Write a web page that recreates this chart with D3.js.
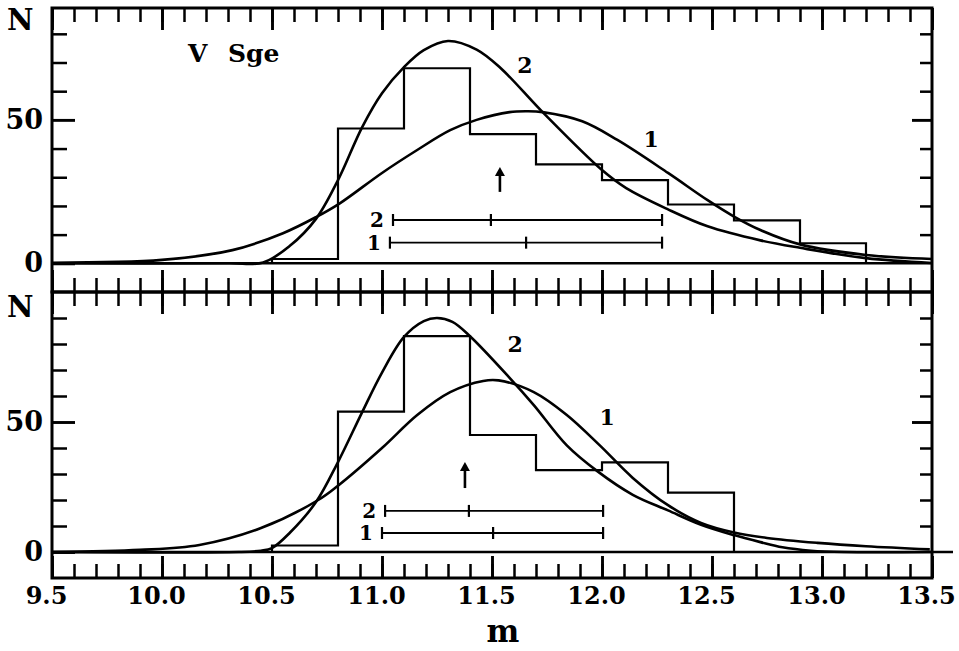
<!DOCTYPE html>
<html><head><meta charset="utf-8">
<script src="https://cdn.jsdelivr.net/npm/d3@7"></script>
<style>
body{margin:0;background:#fff}
svg{display:block;background:#fff}
text{font-family:"DejaVu Serif",serif;font-weight:bold;fill:#000}
</style>
</head><body>
<svg id="c" width="959" height="651"></svg>
<script>
// ---------- data ----------
const binEdges = [10.5,10.8,11.1,11.4,11.7,12.0,12.3,12.6,12.9,13.2];
const topCounts = [1.5,47,68,45,34.5,29,20.5,15,7];
const botCounts = [2.5,54,83,45,31.5,34.5,22.8];

const topCurve1X = [9.5,10.0,10.32,10.55,10.70,10.81,11.0,11.16,11.31,11.43,11.58,11.66,11.73,11.91,12.07,12.30,12.48,12.60,12.72,12.90,13.20,13.5];
const topCurve1Y = [0.2,1.2,4.6,10.5,16.1,21,31.5,39.5,46.4,50,52.7,53,52.7,49.5,43,31.5,22,16.3,11.6,6.6,2.9,1.5];
const topCurve2X = [9.5,10.3,10.46,10.58,10.70,10.80,10.91,11.0,11.10,11.19,11.30,11.43,11.54,11.73,12.0,12.11,12.30,12.48,12.72,12.90,13.20,13.5];
const topCurve2Y = [0,0,0.3,6,15.5,29,47.5,59.3,68.4,74.3,77.5,74.5,68,52.7,32.5,26.2,18.8,12.9,8.0,5.4,1.8,0.1];

const botCurve1X = [9.5,9.9,10.17,10.45,10.71,10.80,11.0,11.16,11.31,11.46,11.53,11.69,11.84,11.99,12.14,12.30,12.45,12.60,12.75,12.98,13.2,13.49];
const botCurve1Y = [0,0.8,2.7,9.2,20,25.5,40,52.7,61.5,65.8,66,61.5,52.7,41,28.5,18,11.2,7.5,5.4,3.5,2.2,1.0];
const botCurve2X = [9.5,10.35,10.45,10.50,10.58,10.70,10.80,10.91,11.0,11.10,11.19,11.25,11.32,11.40,11.58,11.69,11.84,11.98,12.14,12.30,12.45,12.60,12.72,12.82,12.95,13.1,13.5];
const botCurve2Y = [0,0,0.5,1.5,7.3,19.2,34.6,53.8,69,82.7,88.8,90,88.5,83,67,56.5,41,31,22,16,10.5,6.5,3.8,1.8,0.5,0,0];

// error bars
const topBarLabels = ["2","1"];
const topBarLevel = [15.1,7.2];
const topBarLow = [11.05,11.036];
const topBarMid = [11.495,11.655];
const topBarHigh = [12.273,12.273];
const botBarLabels = ["2","1"];
const botBarLevel = [15.8,7.3];
const botBarLow = [11.014,11.0];
const botBarMid = [11.395,11.505];
const botBarHigh = [12.005,12.005];

// arrows: x, tail, tip
const topArrow = [11.536,24.9,33.6];
const botArrow = [11.377,24.6,34.6];

const xMajorTicks = [9.5,10.0,10.5,11.0,11.5,12.0,12.5,13.0,13.5];
const xMinorTicks = d3.range(95,136).map(v=>v/10);
const yLabelTicks = [0,50];
const topMinorY = [10,20,30,40,60,70,80];
const botMinorY = [10,20,30,40,60,70,80,90];

// ---------- layout ----------
const svg = d3.select("#c");
const x = d3.scaleLinear([9.5,13.5],[52,932]);
const yTop = d3.scaleLinear([-10,89],[292,8]);
const yBot = d3.scaleLinear([-10,100],[578,292]);

function styleAxis(g, w){
  g.select(".domain").remove();
  g.selectAll(".tick line").attr("stroke","#000").attr("stroke-width",w||2.5);
}

function panel(y, counts, c1x, c1y, c2x, c2y, minorY, bars, arrow, zeroExt){
  const [y0,y1] = y.range();
  svg.append("g").attr("transform",`translate(0,${y1})`)
    .call(d3.axisTop(x).tickValues(xMinorTicks).tickSize(-14).tickFormat(""))
    .call(g=>styleAxis(g));
  svg.append("g").attr("transform",`translate(0,${y1})`)
    .call(d3.axisTop(x).tickValues(xMajorTicks).tickSize(-22).tickFormat(""))
    .call(g=>styleAxis(g,2.9));
  svg.append("g").attr("transform",`translate(0,${y0})`)
    .call(d3.axisBottom(x).tickValues(xMinorTicks).tickSize(-14).tickFormat(""))
    .call(g=>styleAxis(g));
  svg.append("g").attr("transform",`translate(0,${y0})`)
    .call(d3.axisBottom(x).tickValues(xMajorTicks).tickSize(-22).tickFormat(""))
    .call(g=>styleAxis(g,2.9));
  svg.append("g").attr("transform",`translate(${x.range()[0]},0)`)
    .call(d3.axisLeft(y).tickValues(minorY).tickSize(-15).tickFormat(""))
    .call(g=>styleAxis(g));
  svg.append("g").attr("transform",`translate(${x.range()[0]},0)`)
    .call(d3.axisLeft(y).tickValues(yLabelTicks).tickSize(-23).tickPadding(9).tickFormat(d3.format("d")))
    .call(g=>{styleAxis(g,2.9); g.selectAll("text").attr("font-size",27).attr("font-family","DejaVu Serif").attr("font-weight","bold").attr("fill","#000");});
  svg.append("g").attr("transform",`translate(${x.range()[1]},0)`)
    .call(d3.axisRight(y).tickValues(minorY).tickSize(-12).tickFormat(""))
    .call(g=>styleAxis(g));
  svg.append("g").attr("transform",`translate(${x.range()[1]},0)`)
    .call(d3.axisRight(y).tickValues([50]).tickSize(-20).tickFormat(""))
    .call(g=>styleAxis(g,2.9));
  svg.append("rect").attr("x",x.range()[0]).attr("y",y1)
    .attr("width",x.range()[1]-x.range()[0]).attr("height",y0-y1)
    .attr("fill","none").attr("stroke","#000").attr("stroke-width",3);
  svg.append("line").attr("x1",x.range()[0]).attr("x2",x.range()[1]+zeroExt)
    .attr("y1",y(0)).attr("y2",y(0)).attr("stroke","#000").attr("stroke-width",2.6);
  const pts = [[binEdges[0],0]];
  counts.forEach((c,i)=>{pts.push([binEdges[i],c]);pts.push([binEdges[i+1],c]);});
  pts.push([binEdges[counts.length],0]);
  svg.append("path").attr("d",d3.line().x(d=>x(d[0])).y(d=>y(d[1]))(pts))
    .attr("fill","none").attr("stroke","#000").attr("stroke-width",2.2).attr("stroke-linejoin","miter");
  const ln = d3.line().x(d=>x(d[0])).y(d=>y(Math.max(0,d[1]))).curve(d3.curveCatmullRom.alpha(0.5));
  [[c1x,c1y],[c2x,c2y]].forEach(([cx,cy])=>{
    svg.append("path").attr("d",ln(cx.map((v,i)=>[v,cy[i]])))
      .attr("fill","none").attr("stroke","#000").attr("stroke-width",2.6);
  });
  const [labs,lev,lo,mid,hi] = bars;
  labs.forEach((l,i)=>{
    const yy = y(lev[i]);
    const g = svg.append("g").attr("stroke","#000");
    g.append("line").attr("x1",x(lo[i])).attr("x2",x(hi[i])).attr("y1",yy).attr("y2",yy).attr("stroke-width",1.8);
    [lo[i],hi[i]].forEach(v=>g.append("line").attr("x1",x(v)).attr("x2",x(v)).attr("y1",yy-6).attr("y2",yy+6).attr("stroke-width",2.2));
    g.append("line").attr("x1",x(mid[i])).attr("x2",x(mid[i])).attr("y1",yy-6).attr("y2",yy+6).attr("stroke-width",2.2);
    svg.append("text").attr("x",x(lo[i])-9).attr("y",yy+7).attr("text-anchor","end")
      .attr("font-size",20).text(l);
  });
  const [ax,at,ah] = arrow;
  svg.append("line").attr("x1",x(ax)).attr("x2",x(ax)).attr("y1",y(at)).attr("y2",y(ah)+6)
    .attr("stroke","#000").attr("stroke-width",2.6);
  svg.append("path").attr("d",`M${x(ax)},${y(ah)} l-5,9 l10,0 z`).attr("fill","#000");
}

panel(yTop, topCounts, topCurve1X, topCurve1Y, topCurve2X, topCurve2Y, topMinorY,
  [topBarLabels,topBarLevel,topBarLow,topBarMid,topBarHigh], topArrow, 0);
panel(yBot, botCounts, botCurve1X, botCurve1Y, botCurve2X, botCurve2Y, botMinorY,
  [botBarLabels,botBarLevel,botBarLow,botBarMid,botBarHigh], botArrow, 21);

svg.append("g").attr("transform",`translate(0,${yBot.range()[0]})`)
  .call(d3.axisBottom(x).tickValues(xMajorTicks).tickSize(0).tickPadding(9).tickFormat(d3.format(".1f")))
  .call(g=>{g.select(".domain").remove(); g.selectAll("text").attr("font-size",24).attr("dx",-6)
    .attr("font-family","DejaVu Serif").attr("font-weight","bold").attr("fill","#000");});

svg.append("text").attr("x",7).attr("y",30).attr("font-size",29).text("N");
svg.append("text").attr("x",7).attr("y",317).attr("font-size",29).text("N");
svg.append("text").attr("x",x(11.55)).attr("y",642).attr("text-anchor","middle").attr("font-size",31).text("m");

const t = svg.append("text").attr("y",62).attr("font-size",25);
t.append("tspan").attr("x",188).text("V");
t.append("tspan").attr("x",228).text("Sge");

const lab = (xv,yv,s,yS)=>svg.append("text").attr("x",x(xv)).attr("y",yS(yv)).attr("text-anchor","middle").attr("font-size",22).text(s);
lab(11.65,66.3,"2",yTop);
lab(12.223,40.5,"1",yTop);
lab(11.605,76.9,"2",yBot);
lab(12.023,48.8,"1",yBot);
</script>
</body></html>
